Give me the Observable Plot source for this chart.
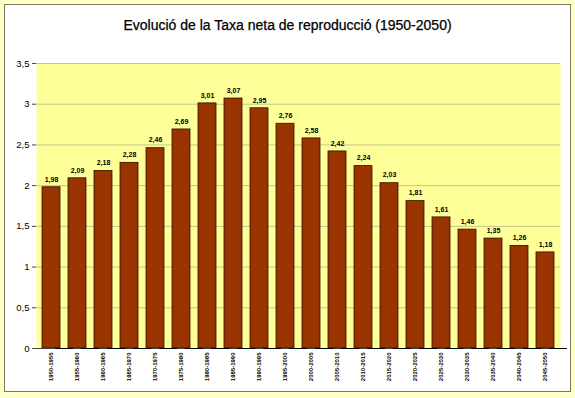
<!DOCTYPE html>
<html>
<head>
<meta charset="utf-8">
<script src="https://cdn.jsdelivr.net/npm/d3@7"></script>
<script src="https://cdn.jsdelivr.net/npm/@observablehq/plot@0.6"></script>
<style>
  html, body { margin: 0; padding: 0; background: #FFFFC8; }
  #wrap { position: relative; width: 575px; height: 398px; background: #FFFFC8; overflow: hidden; }
  #panel { position: absolute; left: 4px; top: 4px; width: 565px; height: 386px; background: #fff; border: 1px solid #7a7a5a; box-sizing: content-box; }
  #title { position: absolute; left: 0; top: 17px; width: 575px; text-align: center; font-family: "Liberation Sans", Arial, sans-serif; font-size: 14px; color: #000; -webkit-text-stroke: 0.25px #000; }
  #chart { position: absolute; left: 0; top: 0; }
</style>
</head>
<body>
<div id="wrap">
  <div id="panel"></div>
  <div id="title">Evolució de la Taxa neta de reproducció (1950-2050)</div>
  <div id="chart"></div>
</div>
<script>
const periods = ["1950-1955","1955-1960","1960-1965","1965-1970","1970-1975","1975-1980","1980-1985","1985-1990","1990-1995","1995-2000","2000-2005","2005-2010","2010-2015","2015-2020","2020-2025","2025-2030","2030-2035","2035-2040","2040-2045","2045-2050"];
const values = [1.98, 2.09, 2.18, 2.28, 2.46, 2.69, 3.01, 3.07, 2.95, 2.76, 2.58, 2.42, 2.24, 2.03, 1.81, 1.61, 1.46, 1.35, 1.26, 1.18];
const yTicks = [0, 0.5, 1, 1.5, 2, 2.5, 3, 3.5];

const data = periods.map((p, i) => ({period: p, value: values[i]}));
const fmt = v => String(v).replace(".", ",");
const font = "Liberation Sans, Arial, sans-serif";

const chart = Plot.plot({
  width: 575,
  height: 398,
  marginLeft: 36,
  marginRight: 15,
  marginTop: 63,
  marginBottom: 50,
  style: {background: "transparent", fontFamily: font},
  x: {type: "band", domain: periods, paddingInner: 0.31, paddingOuter: 0.155, axis: null},
  y: {domain: [0, 3.5], axis: null},
  marks: [
    Plot.frame({fill: "#FFFF99", stroke: null}),
    Plot.ruleY(yTicks.filter(d => d > 0), {stroke: "#c4c48c", strokeWidth: 1}),
    Plot.barY(data, {x: "period", y: "value", fill: "#993300", stroke: "#2a1200", strokeWidth: 0.8}),
    Plot.text(data, {x: "period", y: "value", text: d => d.value.toFixed(2).replace(".", ","), dy: -8, fontSize: 7, fontWeight: "bold", fill: "#000"}),
    Plot.ruleX([0], {stroke: "#444", strokeWidth: 1.2, frameAnchor: "left"}),
    Plot.ruleY([0], {stroke: "#444", strokeWidth: 1.2}),
    Plot.axisY({ticks: yTicks, tickFormat: fmt, tickSize: 4, tickPadding: 3, fontSize: 9.5, stroke: "#444", color: "#000", label: null}),
    Plot.tickY(periods, {x: d => d, y: 0, dx: 13.1, frameAnchor: "bottom"}),
    Plot.axisX({tickSize: 0, tickPadding: 4, tickRotate: -90, fontSize: 6, fontWeight: "bold", label: null})
  ]
});
document.getElementById("chart").appendChild(chart);
</script>
</body>
</html>
